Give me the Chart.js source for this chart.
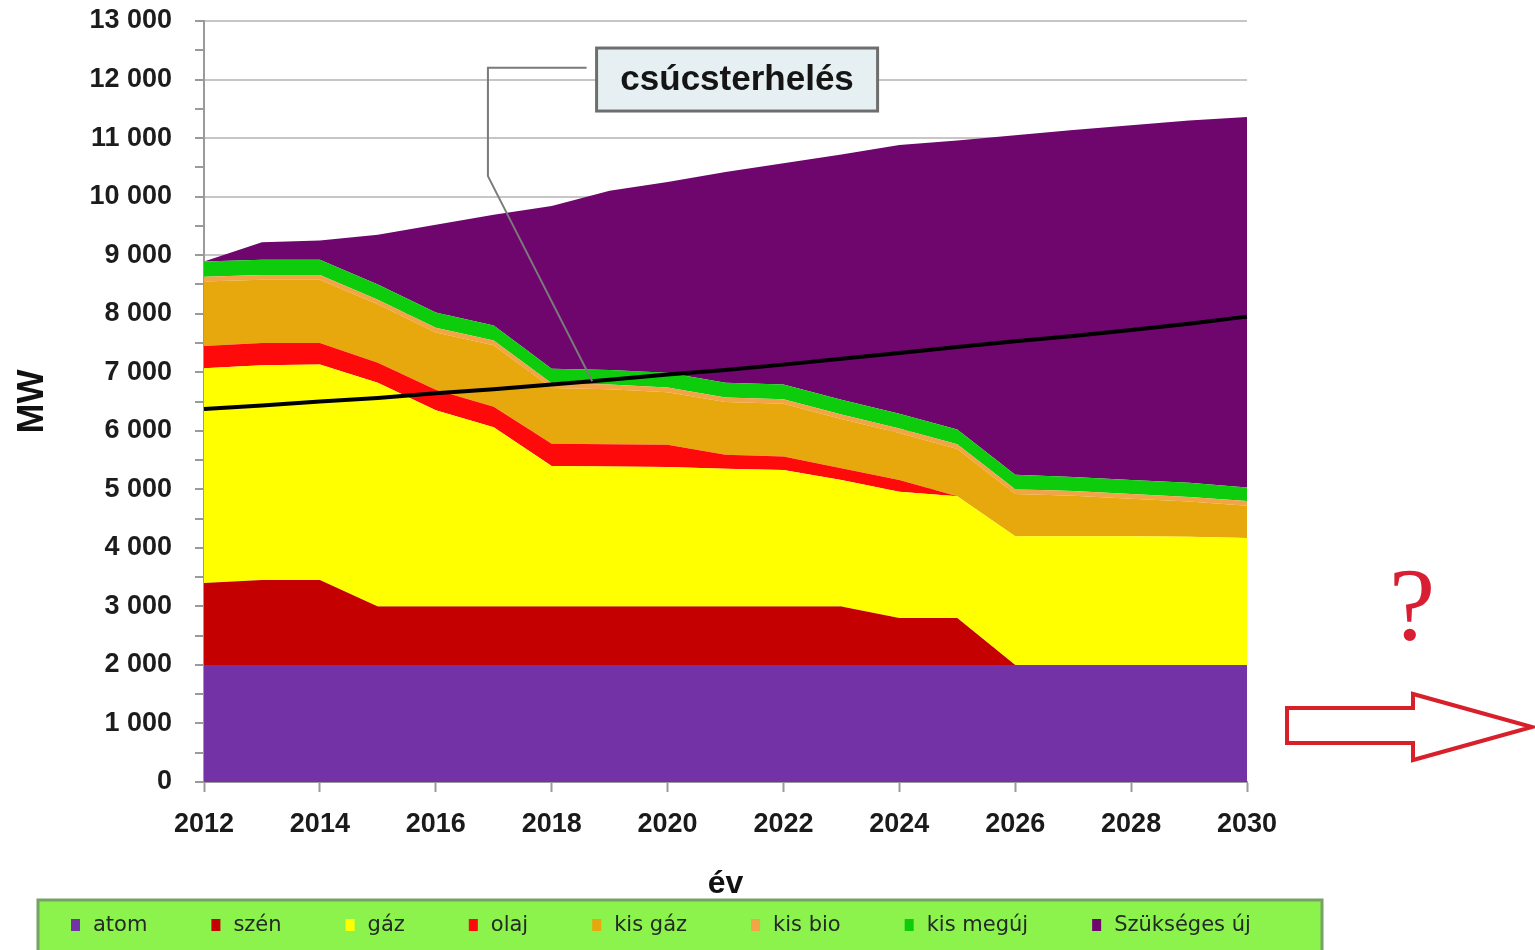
<!DOCTYPE html>
<html lang="hu">
<head>
<meta charset="utf-8">
<title>Erőműpark és csúcsterhelés 2012–2030</title>
<script src="https://cdn.jsdelivr.net/npm/chart.js@4.4.1/dist/chart.umd.min.js"></script>
<style>
  html, body { margin: 0; padding: 0; background: #fff; }
  #wrap { position: relative; width: 1535px; height: 950px; }
</style>
</head>
<body>
<div id="wrap"><canvas id="areaChart"></canvas></div>
<script>
// évenkénti beépített teljesítmény (MW), rétegenként
const years = ['2012', '2013', '2014', '2015', '2016', '2017', '2018', '2019', '2020', '2021',
               '2022', '2023', '2024', '2025', '2026', '2027', '2028', '2029', '2030'];

const atom      = [2000, 2000, 2000, 2000, 2000, 2000, 2000, 2000, 2000, 2000, 2000, 2000, 2000, 2000, 2000, 2000, 2000, 2000, 2000];
const szen      = [1400, 1450, 1450, 1000, 1000, 1000, 1000, 1000, 1000, 1000, 1000, 1000, 800, 800, 0, 0, 0, 0, 0];
const gaz       = [3670, 3670, 3680, 3820, 3350, 3060, 2400, 2390, 2380, 2350, 2330, 2160, 2160, 2080, 2200, 2200, 2200, 2190, 2170];
const olaj      = [380, 380, 370, 340, 350, 350, 380, 380, 380, 240, 230, 200, 200, 0, 0, 0, 0, 0, 0];
const kisGaz    = [1100, 1080, 1080, 1000, 980, 1050, 950, 940, 900, 900, 900, 840, 800, 810, 720, 690, 640, 600, 550];
const kisBio    = [80, 80, 80, 80, 80, 80, 80, 80, 80, 80, 80, 80, 80, 80, 80, 80, 80, 80, 80];
const kisMegujulo = [260, 260, 260, 260, 260, 260, 250, 250, 250, 250, 250, 250, 250, 250, 250, 240, 240, 240, 230];
const szuksegesUj = [0, 300, 330, 850, 1500, 1890, 2780, 3060, 3260, 3600, 3780, 4190, 4590, 4940, 5800, 5930, 6060, 6190, 6330];

// csúcsterhelés (MW)
const peakLoad  = [6370, 6430, 6500, 6560, 6640, 6710, 6790, 6870, 6960, 7040, 7130, 7230, 7330, 7430, 7530, 7620, 7720, 7830, 7950];

const yTicksMax = 13000;
const fontSans = "'Liberation Sans', Arial, sans-serif";

const thousands = v => String(v).replace(/\B(?=(\d{3})+(?!\d))/g, ' ');

function layer(label, data, color, first) {
  return {
    label: label,
    data: data,
    backgroundColor: color,
    borderColor: color,
    borderWidth: 0,
    pointRadius: 0,
    tension: 0,
    fill: first ? 'origin' : '-1',
    inLegend: true
  };
}

// saját jelmagyarázat a zöld keretben
const legendBox = {
  id: 'legendBox',
  afterDraw(chart) {
    const ctx = chart.ctx;
    const top = chart.scales.x.bottom;
    ctx.save();
    ctx.fillStyle = '#8cf24c';
    ctx.fillRect(38, top, 1284, 70);
    ctx.strokeStyle = '#76a266';
    ctx.lineWidth = 3;
    ctx.strokeRect(38, top, 1284, 70);
    ctx.font = "21px 'DejaVu Sans', sans-serif";
    ctx.textBaseline = 'middle';
    ctx.textAlign = 'left';
    const y = top + 25;
    let x = 71;
    chart.data.datasets.forEach(ds => {
      if (!ds.inLegend) return;
      ctx.fillStyle = ds.backgroundColor;
      ctx.fillRect(x, y - 6, 9, 12);
      ctx.fillStyle = '#232b25';
      ctx.fillText(ds.label, x + 22, y + 1);
      x += 22 + ctx.measureText(ds.label).width + 64;
    });
    ctx.restore();
  }
};

// "csúcsterhelés" felirat és mutatóvonal
const peakCallout = {
  id: 'peakCallout',
  afterDatasetsDraw(chart) {
    const ctx = chart.ctx;
    const xs = chart.scales.x, ys = chart.scales.y;
    const w = 281, h = 63;
    const cx = xs.getPixelForValue(9.2), cy = ys.getPixelForValue(12000);
    const bx = cx - w / 2, by = cy - h / 2;

    const kneeX = xs.getPixelForValue(4.9);
    const kneeY = ys.getPixelForValue(12200);
    const bendY = ys.getPixelForValue(10350);
    const tipIdx = 6.7;
    const tipVal = peakLoad[6] + (peakLoad[7] - peakLoad[6]) * 0.7;

    ctx.save();
    ctx.strokeStyle = '#7a7a7a';
    ctx.lineWidth = 2;
    ctx.beginPath();
    ctx.moveTo(bx - 10, kneeY);
    ctx.lineTo(kneeX, kneeY);
    ctx.lineTo(kneeX, bendY);
    ctx.lineTo(xs.getPixelForValue(tipIdx), ys.getPixelForValue(tipVal));
    ctx.stroke();

    ctx.fillStyle = '#e6eff1';
    ctx.fillRect(bx, by, w, h);
    ctx.strokeStyle = '#6e6e6e';
    ctx.lineWidth = 3;
    ctx.strokeRect(bx, by, w, h);

    ctx.fillStyle = '#151515';
    ctx.font = 'bold 35px ' + fontSans;
    ctx.textAlign = 'center';
    ctx.textBaseline = 'middle';
    ctx.fillText('csúcsterhelés', cx, cy + 1);
    ctx.restore();
  }
};

// kérdőjel és nyíl a diagram jobb oldalán
const outlook = {
  id: 'outlook',
  afterDraw(chart) {
    const ctx = chart.ctx;
    const r = chart.chartArea.right, b = chart.chartArea.bottom;
    ctx.save();
    ctx.fillStyle = '#d81e32';
    ctx.font = "104px 'Liberation Serif', 'Times New Roman', serif";
    ctx.textAlign = 'center';
    ctx.textBaseline = 'alphabetic';
    ctx.fillText('?', r + 165, b - 142);

    ctx.strokeStyle = '#d8202a';
    ctx.fillStyle = '#ffffff';
    ctx.lineWidth = 4;
    ctx.lineJoin = 'miter';
    ctx.beginPath();
    ctx.moveTo(r + 40, b - 74);
    ctx.lineTo(r + 166, b - 74);
    ctx.lineTo(r + 166, b - 88);
    ctx.lineTo(r + 285, b - 55);
    ctx.lineTo(r + 166, b - 22);
    ctx.lineTo(r + 166, b - 39);
    ctx.lineTo(r + 40, b - 39);
    ctx.closePath();
    ctx.fill();
    ctx.stroke();
    ctx.restore();
  }
};

const chart = new Chart(document.getElementById('areaChart'), {
  type: 'line',
  data: {
    labels: years,
    datasets: [
      layer('atom', atom, '#7332a6', true),
      layer('szén', szen, '#c40000'),
      layer('gáz', gaz, '#ffff00'),
      layer('olaj', olaj, '#ff0a0a'),
      layer('kis gáz', kisGaz, '#e6a80c'),
      layer('kis bio', kisBio, '#f2a446'),
      layer('kis megúj', kisMegujulo, '#0ccc0c'),
      layer('Szükséges új', szuksegesUj, '#6e066e'),
      {
        label: 'csúcsterhelés',
        data: peakLoad,
        stack: 'peak',
        order: -1,
        borderColor: '#000000',
        borderWidth: 4,
        pointRadius: 0,
        tension: 0,
        fill: false
      }
    ]
  },
  options: {
    responsive: true,
    maintainAspectRatio: false,
    animation: false,
    layout: { padding: { top: 0, right: 288, bottom: 50, left: 0 } },
    plugins: {
      legend: { display: false },
      tooltip: { enabled: false }
    },
    scales: {
      x: {
        type: 'category',
        offset: false,
        ticks: {
          autoSkip: false,
          maxRotation: 0,
          padding: 16,
          color: '#1a1a1a',
          font: { family: fontSans, size: 27, weight: 'bold' },
          callback: function(v, i) { return i % 2 === 0 ? this.getLabelForValue(v) : ''; }
        },
        grid: {
          drawOnChartArea: false,
          tickLength: 10,
          tickWidth: 2,
          tickColor: ctx => ctx.index % 2 === 0 ? '#9a9a9a' : 'rgba(0,0,0,0)'
        },
        border: { color: '#9a9a9a', width: 2 },
        title: {
          display: true,
          text: 'év',
          color: '#111111',
          font: { family: fontSans, size: 32, weight: 'bold', lineHeight: 1 },
          padding: { top: 0, bottom: 0 }
        },
        afterFit: s => { s.height = 118; }
      },
      y: {
        stacked: true,
        min: 0,
        max: yTicksMax,
        ticks: {
          stepSize: 500,
          autoSkip: false,
          padding: 23,
          color: '#1c1c1c',
          font: { family: fontSans, size: 27, weight: 'bold' },
          callback: v => v % 1000 === 0 ? thousands(v) : ''
        },
        grid: {
          color: ctx => ctx.tick && ctx.tick.value % 1000 === 0 ? '#c6c6c6' : 'rgba(0,0,0,0)',
          lineWidth: 2,
          tickLength: 9,
          tickWidth: 2,
          tickColor: '#9a9a9a'
        },
        border: { color: '#9a9a9a', width: 2 },
        title: {
          display: true,
          text: 'MW',
          color: '#111111',
          font: { family: fontSans, size: 36, weight: 'bold' },
          padding: { top: 11, bottom: 0 }
        },
        afterFit: s => {
          s.width = 204;
          s.paddingTop = 21;
          s.paddingBottom = 0;
        }
      }
    }
  },
  plugins: [peakCallout, legendBox, outlook]
});
</script>
</body>
</html>
